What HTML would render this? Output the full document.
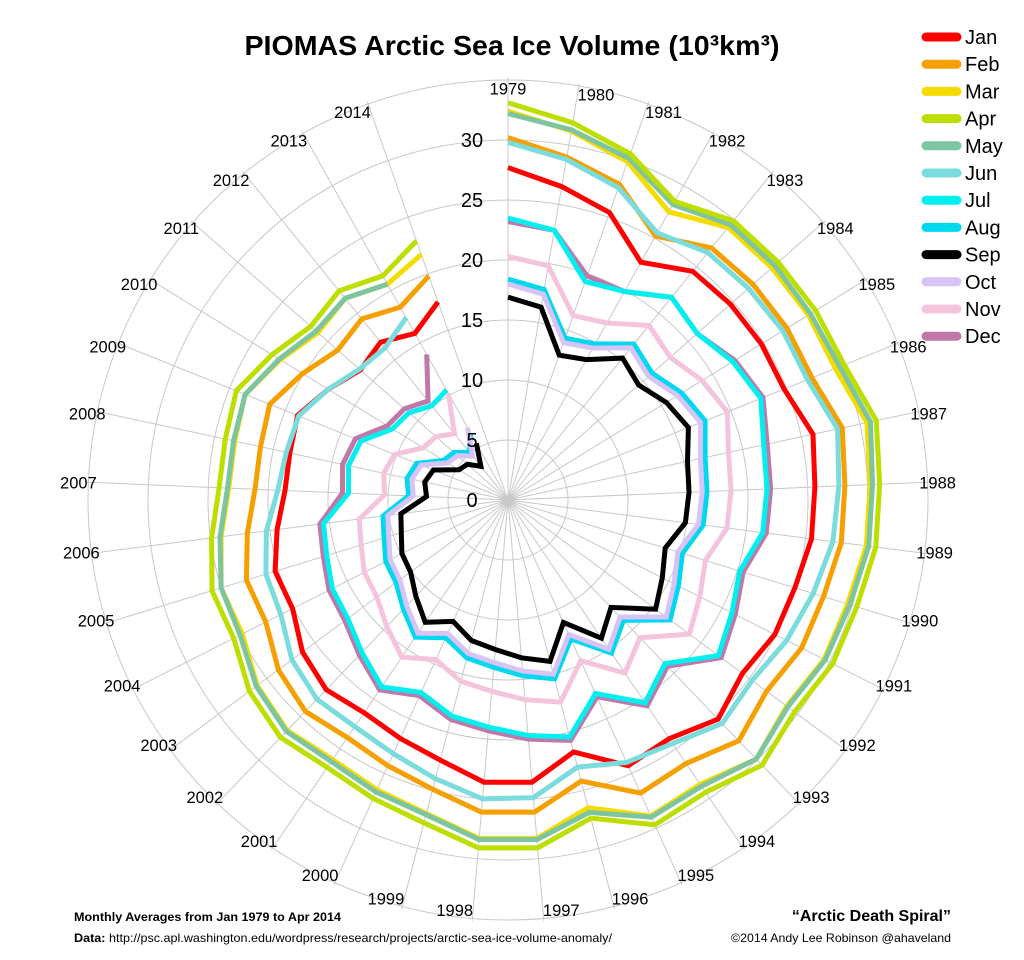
<!DOCTYPE html>
<html><head><meta charset="utf-8"><style>
body{margin:0;background:#fff;}
svg{display:block;font-family:"Liberation Sans",sans-serif;}
</style></head><body>
<svg id="chart" width="1024" height="960" viewBox="0 0 1024 960">
<rect width="1024" height="960" fill="#fff"/>
<text x="512" y="55" text-anchor="middle" font-size="28" font-weight="bold" textLength="535" lengthAdjust="spacingAndGlyphs">PIOMAS Arctic Sea Ice Volume (10³km³)</text>
<g id="grid"></g>
<g id="series"></g>
<g id="ticks"></g>
<g id="legend"></g>
<text x="74" y="921" font-size="12" font-weight="bold" textLength="267" lengthAdjust="spacingAndGlyphs">Monthly Averages from Jan 1979 to Apr 2014</text>
<text x="74" y="942" font-size="12" textLength="538" lengthAdjust="spacingAndGlyphs"><tspan font-weight="bold">Data:</tspan> http://psc.apl.washington.edu/wordpress/research/projects/arctic-sea-ice-volume-anomaly/</text>
<text x="951" y="921" font-size="16" font-weight="bold" text-anchor="end">“Arctic Death Spiral”</text>
<text x="951" y="942" font-size="12" text-anchor="end" textLength="220" lengthAdjust="spacingAndGlyphs">©2014 Andy Lee Robinson @ahaveland</text>
</svg>
<script>
const years = [];
for (let y = 1979; y <= 2014; y++) years.push(String(y));
const radialTicks = [0,5,10,15,20,25,30];
const months = ["Jan","Feb","Mar","Apr","May","Jun","Jul","Aug","Sep","Oct","Nov","Dec"];
const colors = ["#ff0000","#f5a000","#f5dc00","#bede00","#7dc4a0","#7adcdc","#00f0f0","#00d8f0","#000000","#d8c4f4","#f4c4dc","#c078a8"];
const jan = [27.7,26.5,25.4,22.7,24.5,24.7,24.8,24.8,26.0,25.6,25.5,25.0,24.9,24.3,25.3,24.0,24.3,21.7,23.6,23.6,22.4,21.8,21.4,21.9,21.3,20.1,20.3,19.4,18.6,18.6,18.9,17.6,16.4,16.9,15.9,17.5];
const feb = [30.2,29.0,27.9,25.2,27.0,27.2,27.3,27.3,28.5,28.1,28.0,27.5,27.4,26.8,27.8,26.5,26.8,24.2,26.1,26.1,24.9,24.3,23.9,24.4,23.8,22.6,22.8,21.9,21.1,21.1,21.4,20.1,18.9,19.4,18.4,19.8];
const mar = [32.4,31.2,29.9,27.5,29.2,29.3,29.4,29.4,30.6,30.2,30.1,29.6,29.5,28.9,29.9,28.6,28.9,26.5,28.3,28.3,27.0,26.5,26.1,26.6,26.0,24.8,25.0,24.1,23.3,23.3,23.6,22.3,21.1,21.6,20.6,21.7];
const apr = [33.1,31.9,30.6,28.5,29.9,30.0,30.1,30.2,31.4,31.0,30.9,30.4,30.3,29.7,30.6,29.4,29.7,27.4,29.1,29.1,27.8,27.3,26.9,27.4,26.8,25.6,25.8,24.9,24.1,24.1,24.4,23.1,21.9,22.4,21.4,22.9];
const may = [32.2,31.3,30.2,28.2,29.5,29.6,29.6,29.8,30.9,30.4,30.3,29.8,29.6,29.0,29.9,28.8,29.0,26.9,28.4,28.4,27.1,26.7,26.3,26.7,26.1,25.0,25.0,24.2,23.4,23.4,23.6,22.4,21.3,21.6,20.6];
const jun = [29.8,28.8,27.6,25.5,26.5,26.7,26.9,26.9,28.1,27.6,27.3,26.6,26.0,25.3,25.8,24.5,24.0,23.0,24.9,25.0,24.0,23.2,22.8,23.0,22.4,21.2,21.1,20.3,19.2,18.9,18.8,17.6,16.5,16.3,17.4];
const jul = [23.5,22.8,19.3,19.9,21.7,21.0,22.0,22.7,21.8,21.6,21.4,20.2,20.9,21.8,18.9,20.4,17.7,20.4,19.7,19.0,18.6,17.6,18.8,17.6,16.6,16.4,15.8,15.5,13.3,13.6,13.2,11.3,11.0,10.1,10.5];
const aug = [18.4,17.8,14.3,14.9,16.7,16.0,17.0,17.7,16.8,16.6,16.4,15.2,15.9,16.8,13.9,15.4,12.7,15.4,14.7,14.0,13.6,12.6,13.8,12.6,11.6,11.4,10.8,10.5,8.3,8.6,8.2,6.3,6.0,5.1,6.4];
const sep = [16.9,16.3,12.8,13.4,15.2,14.5,15.5,16.2,15.3,15.1,14.9,13.7,14.4,15.3,12.4,13.9,11.2,13.9,13.2,12.5,12.1,11.1,12.3,11.1,10.1,9.9,9.3,9.0,6.8,7.1,6.7,4.8,4.5,3.6,5.4];
const oct = [18.0,17.4,13.9,14.5,16.3,15.6,16.6,17.3,16.4,16.2,16.0,14.8,15.5,16.4,13.5,15.0,12.3,15.0,14.3,13.6,13.2,12.2,13.4,12.2,11.2,11.0,10.4,10.1,7.9,8.2,7.8,5.9,5.6,4.7,6.9];
const nov = [20.3,19.8,16.3,16.9,18.7,18.0,19.0,19.7,18.8,18.6,18.4,17.2,17.9,18.8,15.9,17.4,14.7,17.4,16.7,16.0,15.6,14.6,15.8,14.6,13.6,13.4,12.8,12.5,10.3,10.6,10.2,8.3,8.0,7.1,10.2];
const dec = [23.2,22.8,19.8,19.9,21.7,21.0,22.2,22.9,22.1,21.9,21.7,20.5,21.2,22.1,19.2,20.7,18.0,20.7,20.0,19.3,18.9,17.9,19.1,17.9,16.9,16.7,16.1,15.8,13.8,14.1,13.7,11.8,11.5,10.6,13.9];
const seriesValues = [jan,feb,mar,apr,may,jun,jul,aug,sep,oct,nov,dec];

const NS = "http://www.w3.org/2000/svg";
const CX = 508, CY = 500, PX = 12, SLOTS = 37, RMAX = 35;
function ang(i){ return i * 2 * Math.PI / SLOTS; }
function px(i, v){ return CX + v * PX * Math.sin(ang(i)); }
function py(i, v){ return CY - v * PX * Math.cos(ang(i)); }
function mk(tag, attrs, parent){ const e = document.createElementNS(NS, tag); for (const k in attrs) e.setAttribute(k, attrs[k]); parent.appendChild(e); return e; }

const grid = document.getElementById("grid");
for (let r = 5; r <= RMAX; r += 5) {
  const c = mk("circle", {cx:CX, cy:CY, r:r*PX, fill:"none", stroke:"#c8c8c8", "stroke-width":1}, grid);
  
  
}
years.forEach((y, i) => {
  const l = mk("line", {x1:CX, y1:CY, x2:px(i, RMAX+0.2), y2:py(i, RMAX+0.2), stroke:"#c8c8c8", "stroke-width":1}, grid);
  
  
  const s = Math.sin(ang(i));
  const anchor = s > 0.05 ? "start" : (s < -0.05 ? "end" : "middle");
  const rr = 34.3;
  const t = mk("text", {x:px(i, rr), y:py(i, rr)+6, "font-size":16.5, "text-anchor":anchor}, grid);
  t.textContent = y;
  
  
});

const sg = document.getElementById("series");
const order = [0,1,2,4,3,5,11,6,10,7,9,8];
order.forEach(m => {
  const vals = seriesValues[m];
  const pts = vals.map((v, i) => px(i, v).toFixed(1) + "," + py(i, v).toFixed(1)).join(" ");
  const p = mk("polyline", {points:pts, fill:"none", stroke:colors[m], "stroke-width":5, "stroke-linejoin":"miter", "stroke-miterlimit":3}, sg);
  
  
});

const tg = document.getElementById("ticks");
radialTicks.forEach(v => {
  const t = mk("text", {x:CX-36, y:CY - v*PX + 7, "font-size":20, "text-anchor":"middle"}, tg);
  t.textContent = String(v);
  
  
});

const lg = document.getElementById("legend");
months.forEach((m, k) => {
  const y = 37 + k * 27.2;
  const l = mk("line", {x1:926, y1:y, x2:957, y2:y, stroke:colors[k], "stroke-width":9, "stroke-linecap":"round"}, lg);
  
  
  const t = mk("text", {x:965, y:y+7, "font-size":20}, lg);
  t.textContent = m;
  
  
});
</script>
</body></html>
